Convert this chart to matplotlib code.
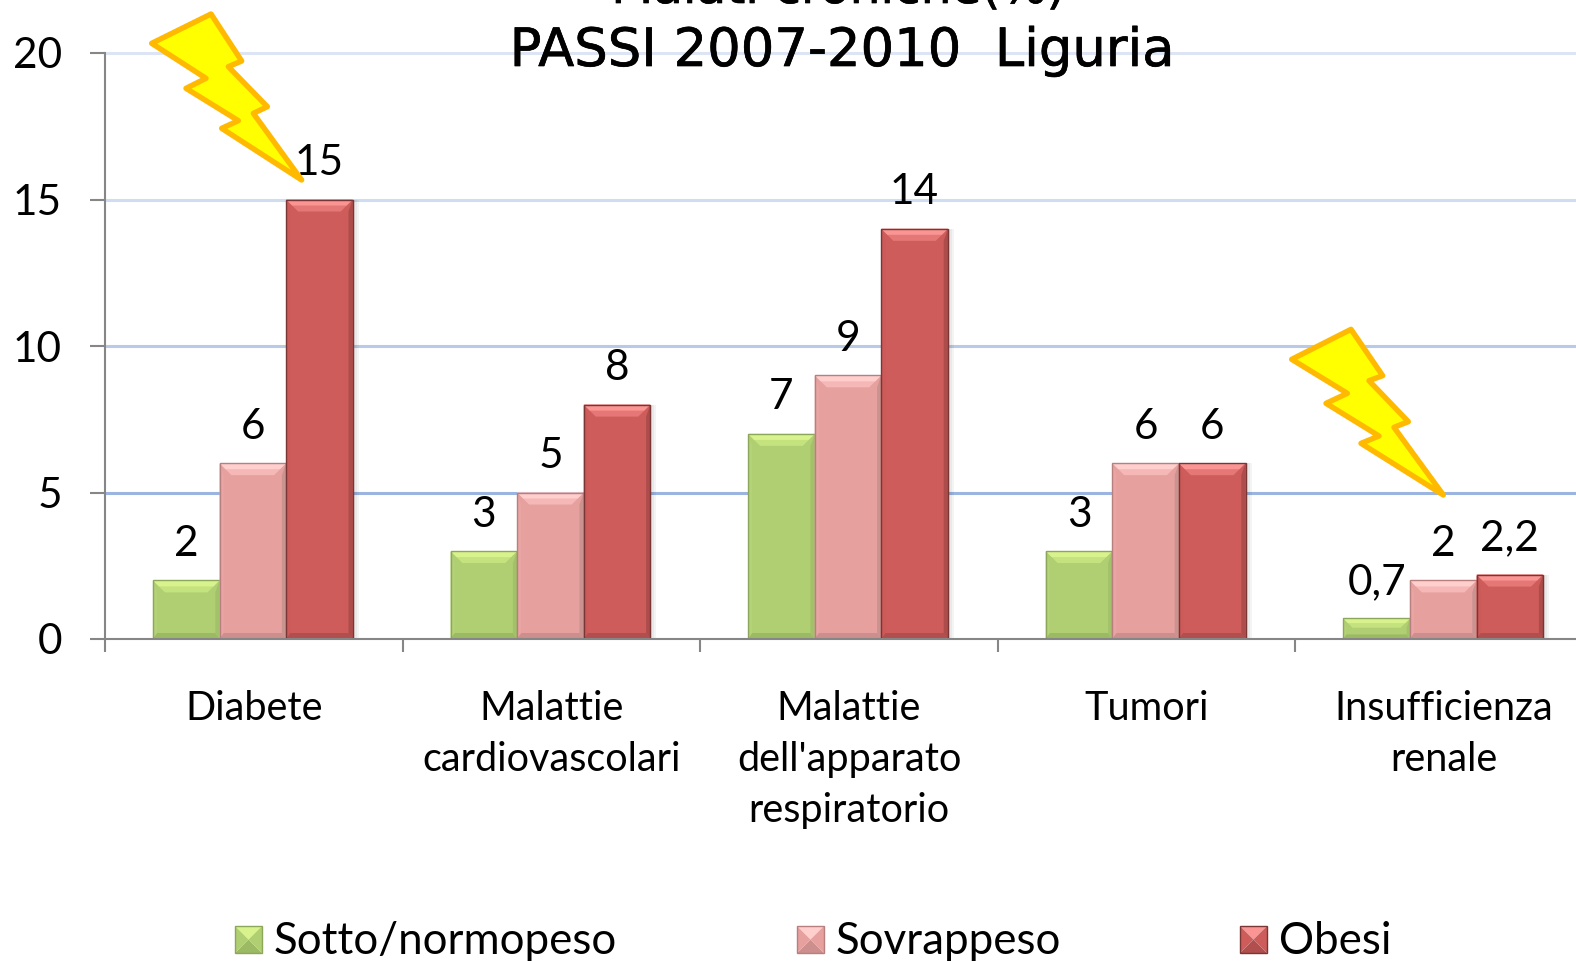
import matplotlib
matplotlib.use("Agg")
import matplotlib.pyplot as plt
from matplotlib.patches import Polygon, Rectangle
from matplotlib.transforms import Affine2D
import matplotlib.patheffects as pe

categories = ["Diabete", "Malattie\ncardiovascolari", "Malattie\ndell'apparato\nrespiratorio", "Tumori", "Insufficienza\nrenale"]
series_names = ["Sotto/normopeso", "Sovrappeso", "Obesi"]
sotto = [2, 3, 7, 3, 0.7]
sovrappeso = [6, 5, 9, 6, 2]
obesi = [15, 8, 14, 6, 2.2]
labels_sotto = ["2", "3", "7", "3", "0,7"]
labels_sovrappeso = ["6", "5", "9", "6", "2"]
labels_obesi = ["15", "8", "14", "6", "2,2"]
y_ticks = [0, 5, 10, 15, 20]
title_lines = ["Malati croniche(%)", "PASSI 2007-2010  Liguria"]

W, H = 1576, 961
BODY = "Lato"
fig = plt.figure(figsize=(W / 100, H / 100), dpi=100, facecolor="white")
ax = fig.add_axes([105 / W, (H - 639) / H, 1488 / W, 586 / H])
ax.set_xlim(0, 5)
ax.set_ylim(0, 20)
ax.set_facecolor("none")

PX = 5 / 1488
PY = 20 / 586
GREY = "#868686"

for s in ("top", "right"):
    ax.spines[s].set_visible(False)
for s in ("left", "bottom"):
    ax.spines[s].set_color(GREY)
    ax.spines[s].set_linewidth(1.5)
    ax.spines[s].set_zorder(6)

ax.set_yticks(y_ticks)
ax.set_yticklabels([str(v) for v in y_ticks], fontsize=30.5, family=BODY)
ax.tick_params(axis="y", length=11, width=1.5, color=GREY, pad=20)
ax.set_xticks(range(6))
ax.set_xticklabels([])
ax.tick_params(axis="x", which="major", length=9.5, width=1.5, color=GREY)
ax.set_xticks([i + 0.5 for i in range(5)], minor=True)
ax.set_xticklabels(categories, minor=True, fontsize=28.5, family=BODY, linespacing=1.48)
ax.tick_params(axis="x", which="minor", length=0, pad=36.5)

grid_colors = {5: "#9BB5E0", 10: "#B9CAE9", 15: "#D0DCF1", 20: "#DDE5F5"}
for v, c in grid_colors.items():
    ax.axhline(v, color=c, lw=2.2, zorder=1, clip_on=False)

palettes = [
    dict(main="#AFCF72", top="#D8F28E", top2="#C4E27E", bot="#9CBA64", right="#A3C16A", left="#B4D277", edge="#8CA65A"),
    dict(main="#E6A09E", top="#FFCFCD", top2="#F6B8B6", bot="#CC8F8D", right="#C99390", left="#E8A5A3", edge="#B77F7D"),
    dict(main="#CD5C5A", top="#FA9593", top2="#E57876", bot="#B04F4D", right="#AC4D4B", left="#CB5A58", edge="#7A3635"),
]


def bevel(patch, p, z):
    x0, y0 = patch.get_x(), patch.get_y()
    x1, y1 = x0 + patch.get_width(), y0 + patch.get_height()
    dy = min(12 * PY, patch.get_height() * 0.45)
    sx = dy / PY * PX
    ax.add_patch(Polygon([(x0, y0), (x0 + sx * .35, y0 + dy * .5), (x0 + sx * .35, y1 - dy), (x0, y1)], fc=p["left"], ec="none", zorder=z))
    ax.add_patch(Polygon([(x1, y0), (x1 - sx * .35, y0 + dy * .5), (x1 - sx * .35, y1 - dy), (x1, y1)], fc=p["right"], ec="none", zorder=z))
    ax.add_patch(Polygon([(x0, y0), (x1, y0), (x1 - sx * .35, y0 + dy * .5), (x0 + sx * .35, y0 + dy * .5)], fc=p["bot"], ec="none", zorder=z))
    ax.add_patch(Polygon([(x0, y1), (x1, y1), (x1 - sx, y1 - dy), (x0 + sx, y1 - dy)], fc=p["top2"], ec="none", zorder=z))
    ax.add_patch(Polygon([(x0, y1), (x1, y1), (x1 - sx * .5, y1 - dy * .5), (x0 + sx * .5, y1 - dy * .5)], fc=p["top"], ec="none", zorder=z))
    ax.add_patch(Rectangle((x0, y0), x1 - x0, y1 - y0, fc="none", ec=p["edge"], lw=1.0, zorder=z + 0.1))


width = 66.6 * PX
groups = [(sotto, labels_sotto), (sovrappeso, labels_sovrappeso), (obesi, labels_obesi)]
for j, (vals, labs) in enumerate(groups):
    centers = [i + 0.5 + (j - 1) * width - 1 * PX for i in range(5)]
    z = 2 + j
    for k in range(1, 4):
        ax.bar([c + 2 * k * PX for c in centers], vals, width, color="black", alpha=0.045, zorder=z - 0.2, lw=0)
    bars = ax.bar(centers, vals, width, color=palettes[j]["main"], zorder=z, lw=0)
    for b in bars:
        bevel(b, palettes[j], z + 0.05)
    for c, v, t in zip(centers, vals, labs):
        ax.text(c, v + 36.5 * PY, t, ha="center", va="center", fontsize=30.5, family=BODY, color="black", zorder=8, clip_on=False)

# legend
to_fig = Affine2D().scale(1 / W, -1 / H).translate(0, 1) + fig.transFigure
swatch_x = [235, 797, 1240]
text_x = [274, 836, 1279]
for name, sx, tx, p in zip(series_names, swatch_x, text_x, palettes):
    sy, s = 926, 27
    mx, my = sx + s / 2, sy + s / 2
    tl, tr, br, bl = (sx, sy), (sx + s, sy), (sx + s, sy + s), (sx, sy + s)
    for pts, c in (((tl, tr, (mx, my)), p["top"]), ((bl, br, (mx, my)), p["bot"]),
                   ((tl, bl, (mx, my)), p["main"]), ((tr, br, (mx, my)), p["main"])):
        fig.add_artist(Polygon(pts, fc=c, ec="none", transform=to_fig))
    fig.add_artist(Rectangle(tl, s, s, fc="none", ec=p["edge"], lw=1.0, transform=to_fig))
    fig.text(tx / W, 1 - 954 / H, name, fontsize=31.6, family=BODY, va="baseline", ha="left", color="black")

# title
effect = [pe.withStroke(linewidth=0.5, foreground="black")]
fig.text(838 / W, 1 - 3 / H, title_lines[0], fontsize=35, family="DejaVu Sans", ha="center", va="baseline", path_effects=effect, zorder=9)
fig.text(842 / W, 1 - 66 / H, title_lines[1], fontsize=38, family="DejaVu Sans", ha="center", va="baseline", path_effects=effect, zorder=9)

# lightning bolts
bolt1 = [(65, 130), (243, 42), (335, 183), (295, 200), (412, 320), (370, 340), (515, 540), (275, 385), (325, 362), (168, 265), (228, 235)]
bolt2 = [(65, 148), (243, 58), (338, 197), (297, 212), (415, 335), (372, 352), (520, 555), (273, 400), (327, 378), (168, 280), (232, 250)]
for pts, ox, oy in ((bolt1, 130, 0), (bolt2, 1270, 310)):
    fig.add_artist(Polygon([(ox + x / 3, oy + y / 3) for x, y in pts], closed=True, fc="#FFFF00", ec="#FFB900",
                           lw=3.9, joinstyle="round", transform=to_fig, zorder=10))

fig.savefig("out.png", dpi=100)
